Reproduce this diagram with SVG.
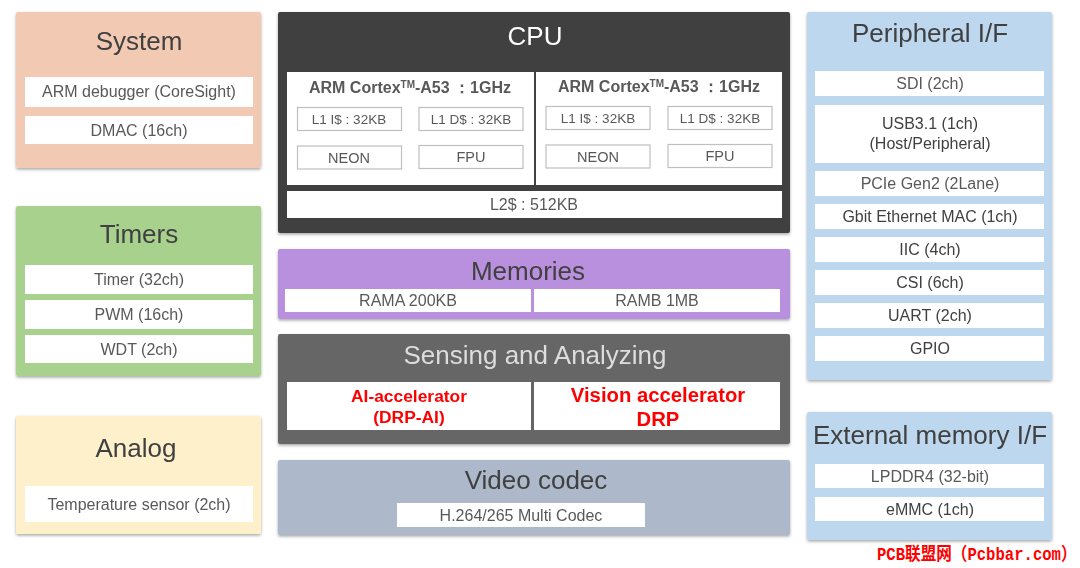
<svg xmlns="http://www.w3.org/2000/svg" width="1080" height="568" viewBox="0 0 1080 568">
<defs>
<filter id="sh" x="-5%" y="-5%" width="110%" height="112%"><feDropShadow dx="0" dy="1.5" stdDeviation="1.5" flood-color="#000" flood-opacity="0.35"/></filter>
<filter id="bl" x="0" y="0" width="1080" height="568" filterUnits="userSpaceOnUse"><feGaussianBlur stdDeviation="0.4"/></filter>
</defs>
<style>
text{font-family:"Liberation Sans",Arial,sans-serif;text-anchor:middle;fill:#595959}
.p{filter:url(#sh)}
.w{fill:#fff}
.o{fill:#fff;stroke:#bfbfbf;stroke-width:1.2}
.h{font-size:26px;fill:#404040}
.t{font-size:16px}
.d{fill:#404040}
.s{font-size:13.5px}
.n{font-size:14.5px}
.b{font-weight:bold;font-size:16px}
.r{font-weight:bold;fill:#ff0000}
</style>
<rect width="1080" height="568" fill="#fff"/>
<g id="blocks" filter="url(#bl)">
<g id="system">
<rect class="p" x="16" y="12" width="245" height="156" rx="2" fill="#f2c9b3"/>
<text class="h" x="139" y="50">System</text>
<rect class="w" x="25" y="77" width="228" height="30"/><text class="t" x="139" y="97">ARM debugger (CoreSight)</text>
<rect class="w" x="25" y="116" width="228" height="28"/><text class="t" x="139" y="136">DMAC (16ch)</text>
</g>
<g id="timers">
<rect class="p" x="16" y="206" width="245" height="170" rx="2" fill="#a9d18e"/>
<text class="h" x="139" y="243">Timers</text>
<rect class="w" x="25" y="265" width="228" height="29"/><text class="t" x="139" y="285">Timer (32ch)</text>
<rect class="w" x="25" y="300" width="228" height="29"/><text class="t" x="139" y="320">PWM (16ch)</text>
<rect class="w" x="25" y="335" width="228" height="28"/><text class="t" x="139" y="355">WDT (2ch)</text>
</g>
<g id="analog">
<rect class="p" x="16" y="416" width="245" height="118" rx="2" fill="#fff0cc"/>
<text class="h" x="136" y="457">Analog</text>
<rect class="w" x="25" y="486" width="228" height="36"/><text class="t" x="139" y="510">Temperature sensor (2ch)</text>
</g>
<g id="cpu">
<rect class="p" x="278" y="12" width="512" height="221" rx="2" fill="#404040"/>
<text class="h" x="535" y="45" style="fill:#fff">CPU</text>
<rect class="w" x="287" y="72" width="247" height="113"/>
<rect class="w" x="536" y="72" width="246" height="113"/>
<text class="b" x="410" y="93">ARM Cortex<tspan font-size="10" dy="-5">TM</tspan><tspan dy="5">-A53 ：1GHz</tspan></text>
<rect class="o" x="297.500" y="107.500" width="104" height="23"/><text class="s" x="349" y="124">L1 I$ : 32KB</text>
<rect class="o" x="419" y="107.500" width="104" height="23"/><text class="s" x="471" y="124">L1 D$ : 32KB</text>
<rect class="o" x="297.500" y="146" width="104" height="23"/><text class="n" x="349" y="163">NEON</text>
<rect class="o" x="419" y="145.500" width="104" height="23"/><text class="n" x="471" y="162">FPU</text>
<text class="b" x="659" y="92">ARM Cortex<tspan font-size="10" dy="-5">TM</tspan><tspan dy="5">-A53 ：1GHz</tspan></text>
<rect class="o" x="546" y="106.500" width="104" height="23"/><text class="s" x="598" y="123">L1 I$ : 32KB</text>
<rect class="o" x="668" y="106.500" width="104" height="23"/><text class="s" x="720" y="123">L1 D$ : 32KB</text>
<rect class="o" x="546" y="145" width="104" height="23"/><text class="n" x="598" y="162">NEON</text>
<rect class="o" x="668" y="144.500" width="104" height="23"/><text class="n" x="720" y="161">FPU</text>
<rect class="w" x="287" y="191" width="495" height="27"/><text class="t" x="534" y="210">L2$ : 512KB</text>
</g>
<g id="memories">
<rect class="p" x="278" y="249" width="512" height="70" rx="2" fill="#b990de"/>
<text class="h" x="528" y="280">Memories</text>
<rect class="w" x="285" y="289" width="246" height="23"/><text class="t" x="408" y="306">RAMA 200KB</text>
<rect class="w" x="534" y="289" width="246" height="23"/><text class="t" x="657" y="306">RAMB 1MB</text>
</g>
<g id="sensing">
<rect class="p" x="278" y="334" width="512" height="110" rx="2" fill="#666"/>
<text class="h" x="535" y="364" style="fill:#ddd">Sensing and Analyzing</text>
<rect class="w" x="287" y="382" width="244" height="48"/>
<text class="r" x="409" y="402" style="font-size:17.4px">AI-accelerator</text><text class="r" x="409" y="423" style="font-size:17.4px">(DRP-AI)</text>
<rect class="w" x="534" y="382" width="246" height="48"/>
<text class="r" x="658" y="402" style="font-size:20.3px">Vision accelerator</text><text class="r" x="658" y="426" style="font-size:20.3px">DRP</text>
</g>
<g id="video">
<rect class="p" x="278" y="460" width="512" height="75" rx="2" fill="#adb9ca"/>
<text class="h" x="536" y="489">Video codec</text>
<rect class="w" x="397" y="503" width="248" height="24"/><text class="t" x="521" y="521">H.264/265 Multi Codec</text>
</g>
<g id="peripheral">
<rect class="p" x="807" y="12" width="245" height="368" rx="2" fill="#bdd7ee"/>
<text class="h" x="930" y="42">Peripheral I/F</text>
<rect class="w" x="815" y="71" width="229" height="25"/><text class="t" x="930" y="89">SDI (2ch)</text>
<rect class="w" x="815" y="105" width="229" height="58"/><text class="t d" x="930" y="129" style="fill:#404040">USB3.1 (1ch)</text><text class="t" x="930" y="149" style="fill:#404040">(Host/Peripheral)</text>
<rect class="w" x="815" y="171" width="229" height="25"/><text class="t" x="930" y="189">PCIe Gen2 (2Lane)</text>
<rect class="w" x="815" y="204" width="229" height="25"/><text class="t" x="930" y="222" style="fill:#404040">Gbit Ethernet MAC (1ch)</text>
<rect class="w" x="815" y="237" width="229" height="25"/><text class="t" x="930" y="255" style="fill:#404040">IIC (4ch)</text>
<rect class="w" x="815" y="270" width="229" height="25"/><text class="t" x="930" y="288" style="fill:#404040">CSI (6ch)</text>
<rect class="w" x="815" y="303" width="229" height="25"/><text class="t" x="930" y="321" style="fill:#404040">UART (2ch)</text>
<rect class="w" x="815" y="336" width="229" height="25"/><text class="t" x="930" y="354" style="fill:#404040">GPIO</text>
</g>
<g id="external-memory">
<rect class="p" x="807" y="412" width="245" height="128" rx="2" fill="#bdd7ee"/>
<text class="h" x="930" y="444">External memory I/F</text>
<rect class="w" x="815" y="464" width="229" height="24"/><text class="t" x="930" y="482">LPDDR4 (32-bit)</text>
<rect class="w" x="815" y="497" width="229" height="24"/><text class="t" x="930" y="515" style="fill:#404040">eMMC (1ch)</text>
</g>
</g>
<text id="watermark" transform="translate(877 560) scale(1 1.15)" style="text-anchor:start;font-family:'Liberation Mono','Noto Sans CJK SC',monospace;font-size:15.6px;font-weight:bold;fill:#ff0000">PCB联盟网（Pcbbar.com）</text>
</svg>
